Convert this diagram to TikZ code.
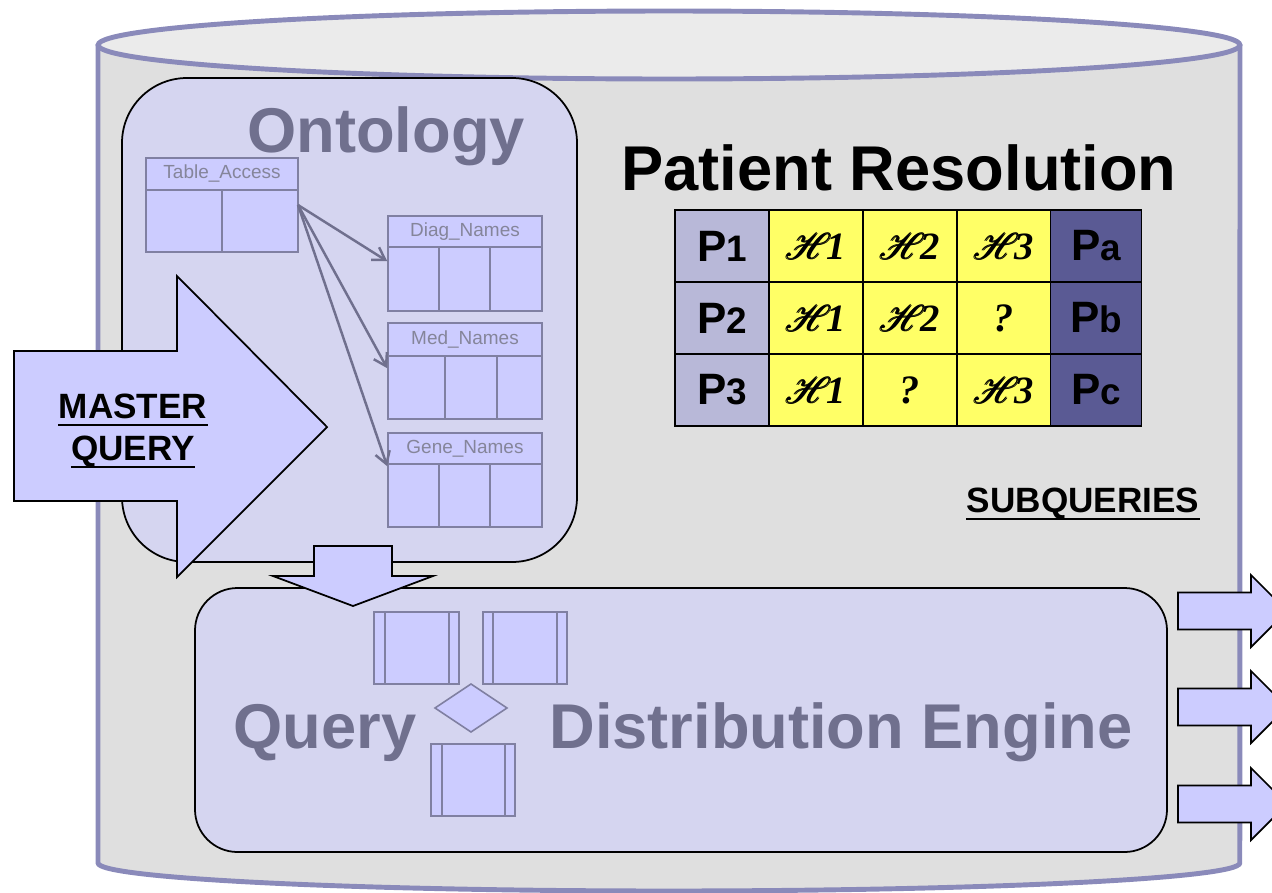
\documentclass[tikz,border=0pt]{standalone}
\usepackage{fontspec}
\setmainfont{Liberation Sans}
\newfontfamily\tabserif{Liberation Serif}
\usepackage{amsmath}
\usepackage{mathrsfs}
\usetikzlibrary{fit,arrows.meta}

\definecolor{cylline}{HTML}{8A8ABA}
\definecolor{cylbody}{HTML}{DFDFDF}
\definecolor{cyltop}{HTML}{EBEBEB}
\definecolor{panel}{HTML}{D5D5F0}
\definecolor{block}{HTML}{CCCCFF}
\definecolor{titlegray}{HTML}{70708E}
\definecolor{tabline}{HTML}{8080A2}
\definecolor{tabtext}{HTML}{85859A}
\definecolor{pcol}{HTML}{B8B8D8}
\definecolor{hcol}{HTML}{FFFF66}
\definecolor{rcol}{HTML}{5A5A94}

% cell contents of the resolution table
\newcommand\Pcell[2]{{\fontsize{25}{25}\selectfont\bfseries #1}{\fontsize{21}{21}\selectfont\bfseries #2}}
\newcommand\Hcell[1]{{\fontsize{21}{21}\selectfont$\pmb{\mathscr{H}}$}\kern-3pt{\fontsize{22}{22}\selectfont\tabserif\bfseries\itshape #1}}
\newcommand\Qcell{{\fontsize{23}{23}\selectfont\tabserif\bfseries\itshape ?}}

\begin{document}
\begin{tikzpicture}[x=0.02cm,y=-0.02cm,
  panelbox/.style={draw=black,line width=1pt,fill=panel,inner sep=0pt},
  dbtable/.style={draw=tabline,line width=0.9pt,fill=block,inner sep=0pt},
  tabrule/.style={draw=tabline,line width=0.9pt},
  tablabel/.style={text=tabtext,font=\fontsize{10.8}{11}\selectfont,inner sep=0pt},
  bigtitle/.style={font=\fontsize{36}{36}\selectfont\bfseries,inner sep=0pt,anchor=base},
  ontoarrow/.style={draw=titlegray,line width=1.4pt,-{Straight Barb[length=0.24cm,width=0.3cm]}},
  blockarrow/.style={draw=black,line width=1pt,fill=block,line join=miter},
  icon/.style={draw=tabline,line width=0.9pt,fill=block},
  pcell/.style={draw=black,line width=1.1pt,minimum width=1.88cm,minimum height=1.44cm,inner sep=0pt},
  boldlabel/.style={font=\fontsize{20}{24}\selectfont\bfseries,inner sep=0pt,anchor=base},
  underbar/.style={draw=black,line width=1.6pt}]

\useasboundingbox (0,0) rectangle (1272,893);
\clip (0,0) rectangle (1272,893);

% database cylinder
\path[draw=cylline,line width=2.8pt,fill=cylbody,line join=round]
  (98,45) -- (98,863) arc[start angle=180,end angle=360,x radius=11.42cm,y radius=0.56cm]
  -- (1240,45) -- cycle;
\draw[cylline,line width=2.8pt,fill=cyltop] (669,45) ellipse[x radius=11.42cm,y radius=0.68cm];

% ontology panel
\node[panelbox,rounded corners=1.3cm,fit={(122,78)(577,562)}] (onto) {};
\node[bigtitle,text=titlegray] (ontotitle) at (386,152) {Ontology};

% ontology tables
\node[dbtable,fit={(146,158)(298,252)}] (ta) {};
\draw[tabrule] (146,190) -- (298,190) (222,190) -- (222,252);
\node[tablabel] (talabel) at (222,174) {Table\_Access};

\node[dbtable,fit={(388,216)(542,311)}] (diag) {};
\draw[tabrule] (388,247) -- (542,247) (439,247) -- (439,311) (490,247) -- (490,311);
\node[tablabel] (diaglabel) at (465,232) {Diag\_Names};

\node[dbtable,fit={(388,323)(542,419)}] (med) {};
\draw[tabrule] (388,356) -- (542,356) (445,356) -- (445,419) (497,356) -- (497,419);
\node[tablabel] (medlabel) at (465,340) {Med\_Names};

\node[dbtable,fit={(388,433)(542,527)}] (gene) {};
\draw[tabrule] (388,464) -- (542,464) (439,464) -- (439,527) (490,464) -- (490,527);
\node[tablabel] (genelabel) at (465,449) {Gene\_Names};

\coordinate (tasrc) at (298,205);
\draw[ontoarrow] (tasrc) -- ([yshift=-0.92cm]diag.north west);
\draw[ontoarrow] (tasrc) -- ([yshift=-0.92cm]med.north west);
\draw[ontoarrow] (tasrc) -- ([yshift=-0.68cm]gene.north west);

% query distribution engine panel
\node[panelbox,rounded corners=0.85cm,fit={(195,588)(1167,852)}] (qde) {};
\node[bigtitle,text=titlegray] (qdeq) at (325,748) {Query};
\node[bigtitle,text=titlegray] (qded) at (841,748) {Distribution Engine};

% flowchart icons inside the engine
\node[icon,inner sep=0pt,fit={(374,612)(459,684)}] (proc1) {};
\draw[tabrule] (385,612) -- (385,684) (449,612) -- (449,684);
\node[icon,inner sep=0pt,fit={(483,612)(567,684)}] (proc2) {};
\draw[tabrule] (493,612) -- (493,684) (557,612) -- (557,684);
\node[icon,inner sep=0pt,fit={(431,744)(515,816)}] (proc3) {};
\draw[tabrule] (442,744) -- (442,816) (505,744) -- (505,816);
\draw[icon] (435,708) -- (471,684) -- (507,708) -- (471,732) -- cycle;

% master query arrow
\draw[blockarrow] (14,351) -- (177,351) -- (177,276) -- (327,427) -- (177,577)
  -- (177,501) -- (14,501) -- cycle;
\node[boldlabel] (mq1) at (133,418) {MASTER};
\node[boldlabel] (mq2) at (133,460) {QUERY};
\draw[underbar] ([yshift=-0.14cm]mq1.base west) -- ([yshift=-0.14cm]mq1.base east);
\draw[underbar] ([yshift=-0.14cm]mq2.base west) -- ([yshift=-0.14cm]mq2.base east);

% arrow from ontology down to the engine
\draw[blockarrow] (314,546) -- (392,546) -- (392,576) -- (433,576) -- (353,606)
  -- (273,576) -- (314,576) -- cycle;

% subquery arrows leaving the engine
\foreach \c in {611,707,804}{
  \draw[blockarrow] (1178,\c-18.5) -- (1251,\c-18.5) -- (1251,\c-36) -- (1287,\c)
    -- (1251,\c+36) -- (1251,\c+18.5) -- (1178,\c+18.5) -- cycle;
}
\node[boldlabel] (subq) at (1083,512) {SUBQUERIES};
\draw[underbar] ([yshift=-0.14cm]subq.base west) -- ([yshift=-0.14cm]subq.base east);

% patient resolution table
\node[bigtitle] (prtitle) at (899,190) {Patient Resolution};

\node[pcell,fill=pcol] (r1c1) at (722,246) {\Pcell{P}{1}};
\node[pcell,fill=hcol] (r1c2) at (816,246) {\Hcell{1}};
\node[pcell,fill=hcol] (r1c3) at (910,246) {\Hcell{2}};
\node[pcell,fill=hcol] (r1c4) at (1004,246) {\Hcell{3}};
\node[pcell,fill=rcol,minimum width=1.82cm] (r1c5) at (1096,246) {\Pcell{P}{a}};

\node[pcell,fill=pcol] (r2c1) at (722,318) {\Pcell{P}{2}};
\node[pcell,fill=hcol] (r2c2) at (816,318) {\Hcell{1}};
\node[pcell,fill=hcol] (r2c3) at (910,318) {\Hcell{2}};
\node[pcell,fill=hcol] (r2c4) at (1004,318) {\Qcell};
\node[pcell,fill=rcol,minimum width=1.82cm] (r2c5) at (1096,318) {\Pcell{P}{b}};

\node[pcell,fill=pcol] (r3c1) at (722,390) {\Pcell{P}{3}};
\node[pcell,fill=hcol] (r3c2) at (816,390) {\Hcell{1}};
\node[pcell,fill=hcol] (r3c3) at (910,390) {\Qcell};
\node[pcell,fill=hcol] (r3c4) at (1004,390) {\Hcell{3}};
\node[pcell,fill=rcol,minimum width=1.82cm] (r3c5) at (1096,390) {\Pcell{P}{c}};

\end{tikzpicture}
\end{document}
